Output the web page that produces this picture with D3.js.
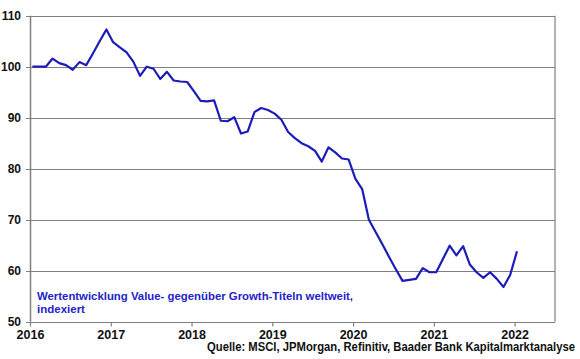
<!DOCTYPE html>
<html><head><meta charset="utf-8">
<script src="https://cdn.jsdelivr.net/npm/d3@7"></script>
<style>body{margin:0;background:#fff}svg{display:block}text{font-family:"Liberation Sans",Arial,sans-serif;font-weight:bold}</style>
</head><body><svg id="c" width="580" height="359"></svg>
<script>
const startYear = 2016;
const values = [100,100,100,101.6,100.7,100.3,99.4,100.9,100.3,102.6,105,107.3,
104.8,103.8,102.8,101,98.2,100,99.6,97.6,99,97.3,97.1,97,
95.2,93.3,93.2,93.4,89.4,89.3,90.1,86.9,87.3,91.1,91.9,91.5,
90.8,89.6,87.2,86.0,85.0,84.4,83.5,81.4,84.2,83.2,82.0,81.8,
78.0,76.0,70.0,67.6,65.2,62.7,60.3,58.0,58.2,58.4,60.5,59.7,
59.7,62.3,64.9,63.0,64.8,61.2,59.7,58.6,59.7,58.4,56.8,59.2,63.8];
const yTicks = [50,60,70,80,90,100,110];
const xTicks = [2016,2017,2018,2019,2020,2021,2022];
const legendLines = ["Wertentwicklung Value- gegenüber Growth-Titeln weltweit,","indexiert"];
const sourceText = "Quelle: MSCI, JPMorgan, Refinitiv, Baader Bank Kapitalmarktanalyse";

const svg = d3.select("#c");
const x = d3.scaleLinear().domain([2016, 2022.5]).range([30, 555]);
const y = d3.scaleLinear().domain([50, 110]).range([321.7, 15.7]);
const grey = "#7f7f7f";

// gridlines
svg.append("g").selectAll("line").data(yTicks).join("line")
  .attr("x1", 26).attr("x2", 555)
  .attr("y1", d => Math.round(y(d)) + 0.5).attr("y2", d => Math.round(y(d)) + 0.5)
  .attr("stroke", grey).attr("stroke-width", 1.2);
// left axis & right border
svg.append("line").attr("x1", 30.5).attr("x2", 30.5).attr("y1", y(110)).attr("y2", y(50))
  .attr("stroke", grey).attr("stroke-width", 1.5);
svg.append("line").attr("x1", 555).attr("x2", 555).attr("y1", y(110)).attr("y2", y(50))
  .attr("stroke", grey).attr("stroke-width", 1.2);

// x axis ticks
const xAxis = d3.axisBottom(x).tickValues(xTicks).tickFormat(d3.format("d")).tickSize(4);
const gx = svg.append("g").attr("transform", `translate(0,${Math.round(y(50)) + 0.5})`).call(xAxis);
gx.select(".domain").remove();
gx.selectAll(".tick line").attr("stroke", grey).attr("stroke-width", 1.2);
gx.selectAll("text").attr("font-size", 12.5).attr("fill", "#111").attr("y", 16).attr("dy", 0);

// y labels
svg.append("g").selectAll("text").data(yTicks).join("text")
  .attr("x", 21).attr("y", d => y(d) + 4.6).attr("text-anchor", "end")
  .attr("font-size", 12).attr("fill", "#111").text(d => d);

// line
const line = d3.line().x((d, i) => x(startYear + (i + 0.35) / 12)).y(d => y(d));
svg.append("path").datum(values).attr("d", line).attr("fill", "none")
  .attr("stroke", "#1c1cb8").attr("stroke-width", 2.2).attr("stroke-linejoin", "round");

// legend text
svg.append("g").selectAll("text").data(legendLines).join("text")
  .attr("x", 37).attr("y", (d, i) => 299.5 + i * 13).attr("font-size", 11.5)
  .attr("fill", "#2323c8").text(d => d)
  .each(function(d, i){ if (i === 0) { d3.select(this).attr("textLength", 316).attr("lengthAdjust", "spacingAndGlyphs"); } });

// source
svg.append("text").attr("x", 575).attr("y", 350.5).attr("text-anchor", "end")
  .attr("font-size", 12.5).attr("fill", "#111").attr("textLength", 368).attr("lengthAdjust", "spacingAndGlyphs")
  .text(sourceText);
</script></body></html>
